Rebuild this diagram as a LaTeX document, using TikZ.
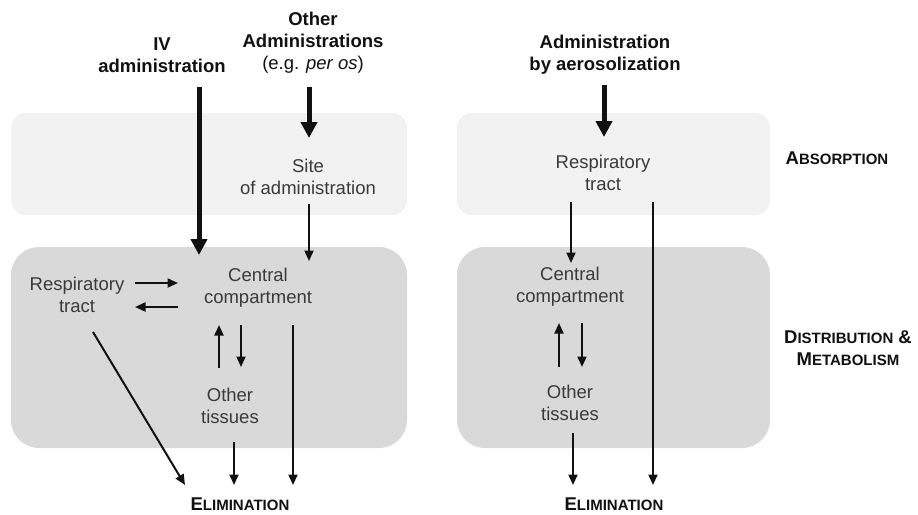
\documentclass[tikz,border=0pt]{standalone}
\usepackage{fontspec}
\setmainfont{Liberation Sans}
\usetikzlibrary{arrows.meta}
\definecolor{lightbox}{HTML}{F2F2F2}
\definecolor{darkbox}{HTML}{D9D9D9}
\definecolor{txt}{HTML}{3A3A3A}
\definecolor{ink}{HTML}{111111}
\newcommand{\fakesc}[2]{{\fontsize{18.5}{22}\selectfont #1}{\fontsize{15}{22}\selectfont #2}}
\begin{document}
\begin{tikzpicture}[x=1pt,y=-1pt,
 lbl/.style={align=center, font=\fontsize{18.5}{22}\selectfont, text=txt, inner sep=0pt},
 headlbl/.style={align=center, font=\fontsize{18.5}{22}\selectfont\bfseries, text=ink, inner sep=0pt},
 phase/.style={align=center, font=\fontsize{18.5}{22}\selectfont\bfseries, text=ink, inner sep=0pt},
 thinarrow/.style={draw=ink, line width=2pt, -{Triangle[length=10.5pt,width=9pt]}},
 thickarrow/.style={draw=ink, line width=5pt, -{Triangle[length=16pt,width=16pt]}},
 lbox/.style={fill=lightbox, rounded corners=15pt, inner sep=0pt},
 dbox/.style={fill=darkbox, rounded corners=28pt, inner sep=0pt}]
\useasboundingbox (0,0) rectangle (918,514);
\fill[white] (0,0) rectangle (918,514);
% boxes
\node[lbox, minimum width=396pt, minimum height=102pt] (absL) at (209,164) {};
\node[dbox, minimum width=396pt, minimum height=201pt] (distL) at (209,347.5) {};
\node[lbox, minimum width=313pt, minimum height=102pt] (absR) at (613.5,164) {};
\node[dbox, minimum width=313pt, minimum height=201pt] (distR) at (613.5,347.5) {};
% headings
\node[headlbl] (iv) at (162,55.5) {IV\\administration};
\node[headlbl] (other) at (313,43) {Other\\Administrations\\{\mdseries (e.g. \textit{per os})}};
\node[headlbl] (aero) at (605,55) {Administration\\by aerosolization};
% left labels
\node[lbl] (site) at (308,177) {Site\\of administration};
\node[lbl] (centL) at (258,288) {Central\\compartment};
\node[lbl] (respL) at (77,295) {Respiratory\\tract};
\node[lbl] (othL) at (230,405.5) {Other\\tissues};
% right labels
\node[lbl] (respR) at (603,173) {Respiratory\\tract};
\node[lbl] (centR) at (570,287) {Central\\compartment};
\node[lbl] (othR) at (570,403) {Other\\tissues};
% phases
\node[phase] (elimL) at (240,504) {\fakesc{E}{LIMINATION}};
\node[phase] (elimR) at (614,504) {\fakesc{E}{LIMINATION}};
\node[phase] (absorp) at (837,158) {\fakesc{A}{BSORPTION}};
\node[phase] (distrib) at (848,348) {\fakesc{D}{ISTRIBUTION} \&\\\fakesc{M}{ETABOLISM}};
% coordinates
\coordinate (ivA) at (199,87);   \coordinate (ivB) at (199,255);
\coordinate (otA) at (309,87);   \coordinate (otB) at (309,138);
\coordinate (siA) at (309,204);  \coordinate (siB) at (309,261);
\coordinate (rcA) at (135,283);  \coordinate (rcB) at (178,283);
\coordinate (crA) at (178,307);  \coordinate (crB) at (135,307);
\coordinate (upLA) at (219,368); \coordinate (upLB) at (219,325);
\coordinate (dnLA) at (241,325); \coordinate (dnLB) at (241,367);
\coordinate (ceLA) at (293,325); \coordinate (ceLB) at (293,485);
\coordinate (rsLA) at (93,332);  \coordinate (rsLB) at (185,485);
\coordinate (otLA) at (234,442); \coordinate (otLB) at (234,485);
\coordinate (aeA) at (604,85);   \coordinate (aeB) at (604,137);
\coordinate (rrA) at (571,202);  \coordinate (rrB) at (571,263);
\coordinate (rlA) at (653,202);  \coordinate (rlB) at (653,485);
\coordinate (upRA) at (559,367); \coordinate (upRB) at (559,323);
\coordinate (dnRA) at (582,323); \coordinate (dnRB) at (582,367);
\coordinate (otRA) at (573,433); \coordinate (otRB) at (573,485);
% arrows
\draw[thickarrow] (ivA) -- (ivB);
\draw[thickarrow] (otA) -- (otB);
\draw[thickarrow] (aeA) -- (aeB);
\draw[thinarrow] (siA) -- (siB);
\draw[thinarrow] (rcA) -- (rcB);
\draw[thinarrow] (crA) -- (crB);
\draw[thinarrow] (upLA) -- (upLB);
\draw[thinarrow] (dnLA) -- (dnLB);
\draw[thinarrow] (ceLA) -- (ceLB);
\draw[thinarrow] (rsLA) -- (rsLB);
\draw[thinarrow] (otLA) -- (otLB);
\draw[thinarrow] (rrA) -- (rrB);
\draw[thinarrow] (rlA) -- (rlB);
\draw[thinarrow] (upRA) -- (upRB);
\draw[thinarrow] (dnRA) -- (dnRB);
\draw[thinarrow] (otRA) -- (otRB);
\end{tikzpicture}
\end{document}
